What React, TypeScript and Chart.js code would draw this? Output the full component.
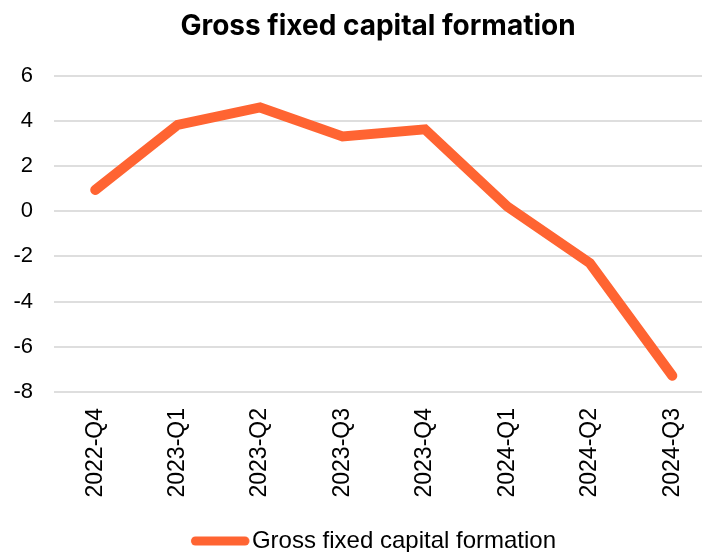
import React, { useEffect, useRef } from "react";
import { Chart, registerables } from "chart.js";

Chart.register(...registerables);

const categories = ["2022-Q4", "2023-Q1", "2023-Q2", "2023-Q3", "2023-Q4", "2024-Q1", "2024-Q2", "2024-Q3"];
const gfcfValues = [0.94, 3.82, 4.59, 3.31, 3.62, 0.2, -2.3, -7.28];
const yTicks = [-8, -6, -4, -2, 0, 2, 4, 6];
const seriesName = "Gross fixed capital formation";
const titleText = "Gross fixed capital formation";
const lineColor = "#FF6432";

function makeLegendSample(): HTMLCanvasElement {
  const c = document.createElement("canvas");
  c.width = 60;
  c.height = 10;
  const ctx = c.getContext("2d")!;
  ctx.strokeStyle = lineColor;
  ctx.lineWidth = 9;
  ctx.lineCap = "round";
  ctx.beginPath();
  ctx.moveTo(5.5, 5);
  ctx.lineTo(55, 5);
  ctx.stroke();
  return c;
}

export default function App() {
  const ref = useRef<HTMLCanvasElement | null>(null);

  useEffect(() => {
    if (!ref.current) return;
    const points = gfcfValues.map((v, i) => ({ x: i, y: v }));
    const sample = makeLegendSample();
    const chart = new Chart(ref.current, {
      type: "line",
      data: {
        datasets: [
          {
            label: seriesName,
            data: points,
            borderColor: lineColor,
            backgroundColor: lineColor,
            borderWidth: 10,
            borderCapStyle: "round",
            borderJoinStyle: "miter",
            pointRadius: 0,
            pointHoverRadius: 0,
            tension: 0,
          },
        ],
      },
      options: {
        responsive: false,
        animation: false,
        layout: { padding: { left: 0, right: 0, top: 0, bottom: -11 } },
        plugins: {
          title: {
            display: true,
            text: titleText,
            fullSize: false,
            color: "#000",
            font: { family: "Inter", size: 28, weight: "bold" },
            padding: { top: 10, bottom: 32 },
          },
          legend: {
            display: true,
            position: "bottom",
            fullSize: false,
            labels: {
              usePointStyle: true,
              pointStyleWidth: 40,
              padding: 0,
              color: "#000",
              font: { family: "Liberation Sans", size: 24 },
              generateLabels: (c: any) => {
                const items = Chart.defaults.plugins.legend.labels.generateLabels(c);
                return items.map((it: any) => ({ ...it, pointStyle: sample, lineWidth: 0 }));
              },
            },
          },
          tooltip: { enabled: false },
        },
        scales: {
          x: {
            type: "linear",
            min: -0.5,
            max: 7.36,
            afterBuildTicks: (axis: any) => {
              axis.ticks = categories.map((_, i) => ({ value: i }));
            },
            afterFit: (axis: any) => {
              axis.height = 137;
              axis.paddingLeft = 0;
              axis.paddingRight = 0;
            },
            grid: { display: false, drawTicks: false },
            border: { display: false },
            ticks: {
              autoSkip: false,
              minRotation: 90,
              maxRotation: 90,
              padding: 16,
              color: "#000",
              font: { family: "Liberation Sans", size: 23 },
              callback: (value: any) => categories[Math.round(Number(value))] ?? "",
            },
          },
          y: {
            min: -8,
            max: 6,
            afterBuildTicks: (axis: any) => {
              axis.ticks = yTicks.map((v) => ({ value: v }));
            },
            afterFit: (axis: any) => {
              axis.width = 54;
            },
            grid: { color: "#DEDEDE", lineWidth: 2, drawTicks: false },
            border: { display: false },
            ticks: {
              padding: 21,
              color: "#000",
              font: { family: "Liberation Sans", size: 22 },
            },
          },
        },
      },
    });
    return () => chart.destroy();
  }, []);

  return (
    <div style={{ position: "fixed", left: 0, top: 0, width: 702, height: 552, background: "#fff" }}>
      <canvas ref={ref} width={702} height={552} style={{ display: "block" }} />
    </div>
  );
}
